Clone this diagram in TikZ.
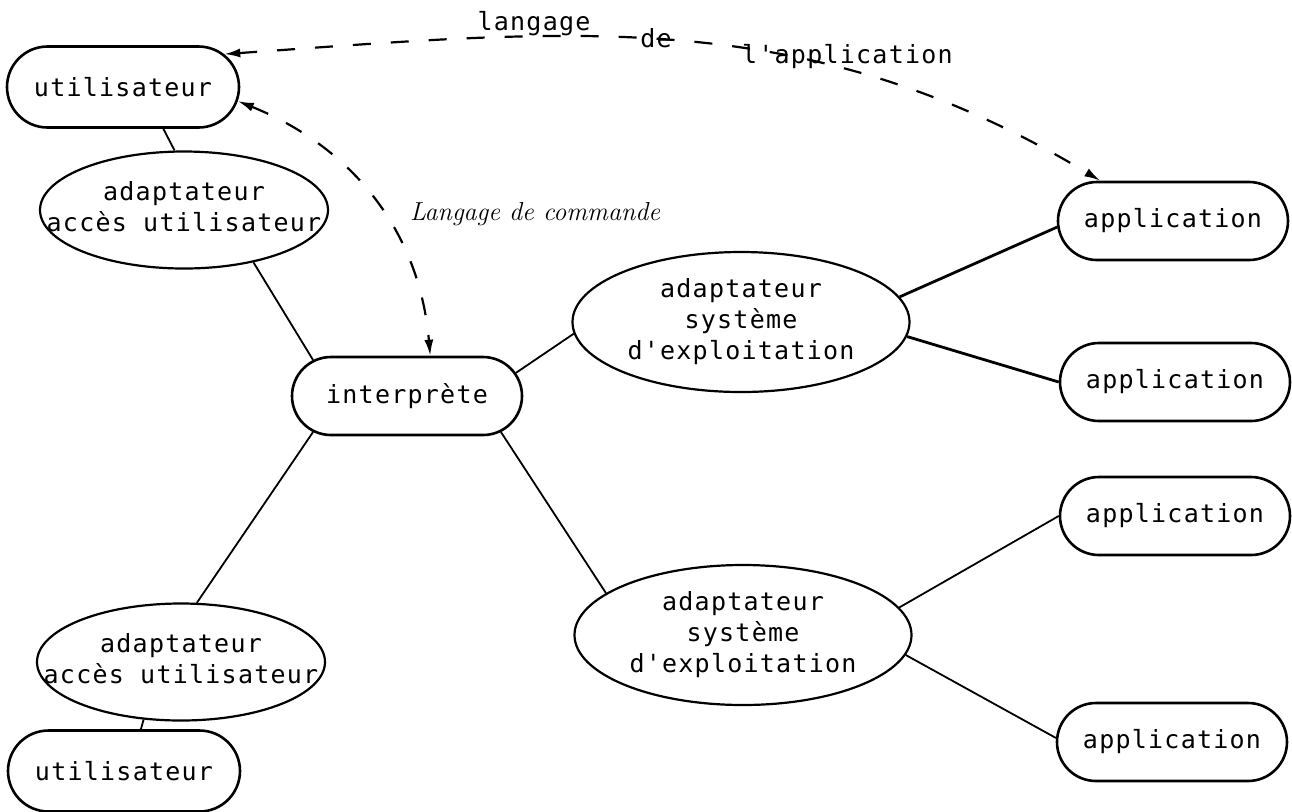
\documentclass[tikz,border=0pt]{standalone}
\usepackage{fontspec}
\newfontfamily\machine{DejaVu Sans Mono}[LetterSpace=5]
\usetikzlibrary{arrows.meta,shapes.geometric,shapes.misc}
\newcommand{\lignes}[1]{\makebox[0pt]{\begin{tabular}{@{}c@{}}#1\end{tabular}}}
\tikzset{
    every node/.style={font=\machine\fontsize{12.5}{15.5}\selectfont},
    boite/.style={draw,line width=1.3pt,rounded rectangle,inner sep=0pt,minimum width=115pt,minimum height=39pt},
    usager/.style={boite,minimum width=116pt,minimum height=40.5pt},
    acces/.style={draw,line width=1.1pt,ellipse,inner sep=0pt,minimum width=144pt,minimum height=58.5pt},
    systeme/.style={acces,minimum width=168.5pt,minimum height=70pt},
    lien/.style={line width=0.9pt},
    dial/.style={line width=1.1pt,dash pattern=on 9pt off 10pt,{Latex[length=8pt,width=4.5pt]}-{Latex[length=8pt,width=4.5pt]}}
}
\begin{document}
\begin{tikzpicture}[x=0.5pt,y=-0.5pt]
    \useasboundingbox (0,0) rectangle (1292,811);
    \node [usager] (util1) at (123,87) {utilisateur};
    \node [acces] (acces1) at (184,210) {\lignes{adaptateur\\accès utilisateur}};
    \node [boite] (interp) at (407,396) {interprète};
    \node [acces] (acces2) at (181,662) {\lignes{adaptateur\\accès utilisateur}};
    \node [usager] (util2) at (124,771) {utilisateur};
    \node [systeme] (sys1) at (741,322) {\lignes{adaptateur\\système\\d'exploitation}};
    \node [systeme] (sys2) at (743,635) {\lignes{adaptateur\\système\\d'exploitation}};
    \node [boite] (app1) at (1173,221) {application};
    \node [boite] (app2) at (1175,382) {application};
    \node [boite] (app3) at (1175,516) {application};
    \node [boite] (app4) at (1172,742) {application};

    \draw [lien] (util1.-46) -- (acces1.99);
    \draw [lien] (acces1.-37) -- (interp.159);
    \draw [lien] (interp.12) -- (sys1.184);
    \draw [lien] (interp.-21) -- (sys2.163);
    \draw [lien] (interp.201) -- (acces2.75);
    \draw [lien] (acces2.237) -- (util2.68);
    \draw [lien,line width=1.4pt] (sys1.9) -- (app1.183);
    \draw [lien,line width=1.4pt] (sys1.-5) -- (app2.west);
    \draw [lien] (sys2.10) -- (app3.west);
    \draw [lien] (sys2.-7) -- (app4.178);

    \draw [dial] (util1.18) to [out=4,in=149] (app1.151);
    \draw [dial] (util1.-7) to [out=-22,in=95] (interp.60);

    \node [anchor=base] (langage) at (534,30) {langage};
    \node [anchor=base] (de) at (656,47) {de};
    \node [anchor=base west] (appli) at (735,63) {l'application};
    \node [anchor=base west,font=\rmfamily\itshape\fontsize{13}{15}\selectfont] (commande) at (403,220) {Langage de commande};
\end{tikzpicture}
\end{document}
